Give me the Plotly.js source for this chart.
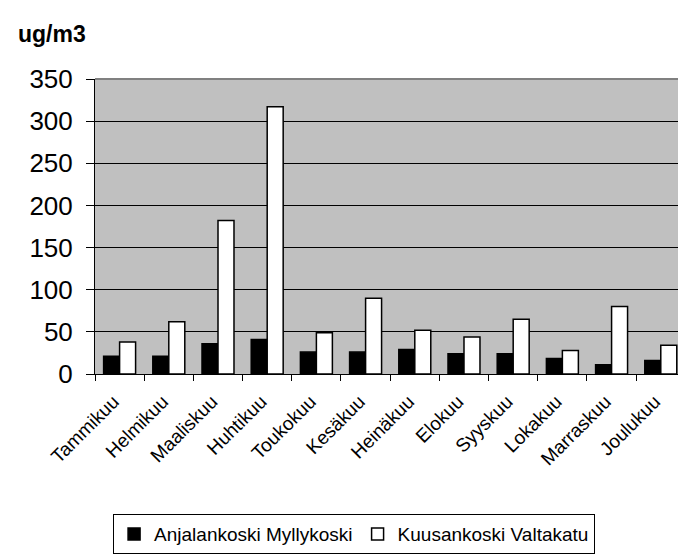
<!DOCTYPE html>
<html>
<head>
<meta charset="utf-8">
<script src="https://cdn.plot.ly/plotly-3.0.1.min.js"></script>
<style>html,body{margin:0;padding:0;background:#fff;}#chart{width:678px;height:556px;}</style>
</head>
<body>
<div id="chart"></div>
<script>
const months = ["Tammikuu","Helmikuu","Maaliskuu","Huhtikuu","Toukokuu","Kesäkuu","Heinäkuu","Elokuu","Syyskuu","Lokakuu","Marraskuu","Joulukuu"];
const anjalankoski = [21, 21, 36, 41, 26, 26, 29, 24, 24, 18.5, 11, 16];
const kuusankoski = [38, 62, 182, 317, 49, 90, 52, 44, 65, 28, 80, 34];
const seriesNames = ["Anjalankoski Myllykoski", "Kuusankoski Valtakatu"];
const yTicks = [0, 50, 100, 150, 200, 250, 300, 350];

const font = "Liberation Sans, Arial, sans-serif";
const traces = [
  {type: "bar", x: months, y: anjalankoski, name: seriesNames[0],
   marker: {color: "#000000", line: {color: "#000000", width: 1.5}}},
  {type: "bar", x: months, y: kuusankoski, name: seriesNames[1],
   marker: {color: "#ffffff", line: {color: "#000000", width: 1.5}}}
];
const layout = {
  width: 678, height: 556,
  margin: {l: 95, r: 0, t: 79, b: 182, pad: 0},
  paper_bgcolor: "#ffffff", plot_bgcolor: "#c0c0c0",
  font: {family: font, color: "#000000"},
  title: {text: "<b>ug/m3</b>", xref: "container", yref: "container",
          x: 18/678, xanchor: "left", y: 1 - 34/556, yanchor: "middle",
          font: {size: 23, family: font}},
  barmode: "group", bargap: 0.35, bargroupgap: 0,
  showlegend: true,
  legend: {orientation: "h", x: 0.031, xanchor: "left", y: -0.475, yanchor: "top",
           bordercolor: "#000000", borderwidth: 1, bgcolor: "#ffffff",
           font: {size: 19, family: font}, traceorder: "normal"},
  xaxis: {type: "category", range: [-0.5, 11.35], tickangle: -45,
          showline: true, linecolor: "#000000", linewidth: 1,
          ticks: "outside", tickson: "boundaries", ticklen: 6, tickcolor: "#000000",
          ticklabelstandoff: 8, ticklabelshift: -6,
          tickfont: {size: 19, family: font}, showgrid: false, zeroline: false},
  yaxis: {range: [0, 350], tickvals: yTicks, ticktext: yTicks.map(String),
          showline: true, linecolor: "#000000", linewidth: 1,
          ticks: "outside", ticklen: 8, tickcolor: "#000000",
          ticklabelstandoff: 8,
          tickfont: {size: 26, family: font},
          showgrid: true, gridcolor: "#000000", gridwidth: 1, zeroline: false},
  shapes: [{type: "line", xref: "paper", yref: "paper", x0: 0, x1: 1, y0: 1, y1: 1,
            line: {color: "#808080", width: 2}}]
};
Plotly.newPlot("chart", traces, layout, {displayModeBar: false, staticPlot: true});
</script>
</body>
</html>
